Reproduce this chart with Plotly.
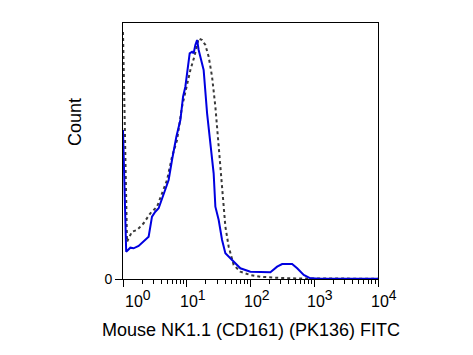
import plotly.graph_objects as go

# Fluorescence positions are given as log10 decades (0..4 -> 10^0..10^4)
stained_log = [0.0, 0.05, 0.115, 0.166, 0.245, 0.323, 0.402, 0.455, 0.507, 0.559, 0.637,
               0.716, 0.769, 0.837, 0.9, 0.942, 0.978, 1.014, 1.046, 1.083, 1.108, 1.135,
               1.162, 1.187, 1.214, 1.265, 1.319, 1.371, 1.422, 1.449, 1.501, 1.554, 1.606,
               1.711, 1.841, 1.998, 2.155, 2.312, 2.418, 2.496, 2.653, 2.732, 2.835, 2.94,
               3.097, 4.0]
stained_count = [149, 27.3, 31.3, 30.7, 33, 37.3, 42.3, 62.3, 67.3, 70.7, 85.7,
                 99, 119, 142.3, 159, 182.3, 192.3, 209, 225.7, 227.3, 225.7, 234,
                 239, 229, 222.3, 209, 165.7, 132.3, 105.7, 72.3, 59, 39, 25.7,
                 19, 10.7, 7.3, 6.7, 6.7, 12.3, 15, 15, 10.7, 4, 0.7,
                 0.3, 0.3]

control_log = [0.0, 0.063, 0.141, 0.22, 0.323, 0.429, 0.534, 0.612, 0.691, 0.769, 0.848,
               0.926, 0.994, 1.057, 1.119, 1.187, 1.24, 1.292, 1.344, 1.397, 1.449, 1.501,
               1.554, 1.606, 1.658, 1.736, 1.841, 1.998, 2.155, 2.47, 2.785, 4.0]
control_count = [247, 37.3, 47.3, 49, 55.7, 65.7, 72.3, 85.7, 99, 122.3, 139,
                 172.3, 192.3, 209, 222.3, 240.7, 239, 234, 222.3, 202.3, 172.3, 132.3,
                 92.3, 52.3, 32.3, 14, 7.3, 4, 2.3, 1, 0.5, 0.3]

x_tick_exponents = [0, 1, 2, 3, 4]
x_title = "Mouse NK1.1 (CD161) (PK136) FITC"
y_title = "Count"

stained_x = [10 ** v for v in stained_log]
control_x = [10 ** v for v in control_log]

fig = go.Figure()
fig.add_trace(go.Scatter(x=control_x, y=control_count, mode="lines",
                         line=dict(color="#3a3a3a", width=2, dash="dot"),
                         showlegend=False, hoverinfo="skip"))
fig.add_trace(go.Scatter(x=stained_x, y=stained_count, mode="lines",
                         line=dict(color="#0000e0", width=2),
                         showlegend=False, hoverinfo="skip"))

font_family = "Liberation Sans, Arial, sans-serif"

# page body has an 8px default margin, so the figure is offset by 8px
fig.update_layout(
    width=465, height=347,
    margin=dict(l=115, r=95, t=15, b=76),
    paper_bgcolor="white", plot_bgcolor="white",
    font=dict(family=font_family, color="black"),
    xaxis=dict(type="log", range=[0, 4], showgrid=False, zeroline=False,
               showline=True, linecolor="black", linewidth=1, mirror=True,
               ticks="outside", ticklen=7, tickcolor="black", tickwidth=1,
               dtick=1, showticklabels=False,
               minor=dict(ticks="outside", ticklen=4, tickcolor="black", dtick="D1", showgrid=False)),
    yaxis=dict(range=[0, 256], showgrid=False, zeroline=False,
               showline=True, linecolor="black", linewidth=1, mirror=True,
               ticks="outside", ticklen=7, tickcolor="black",
               tickvals=[0], ticktext=["0"], tickfont=dict(size=14)),
)

annotations = []
for e in x_tick_exponents:
    shift = -9 if e > 0 else 0
    annotations.append(dict(x=e, y=0, xref="x", yref="paper", xanchor="left", yanchor="top",
                            text=f"10<sup><span style='font-size:14px'>{e}</span></sup>",
                            showarrow=False,
                            font=dict(size=16, family=font_family), xshift=shift, yshift=-6))
annotations.append(dict(x=0.5, y=0, xref="paper", yref="paper", xanchor="center", yanchor="middle",
                        text=x_title, showarrow=False, font=dict(size=18, family=font_family),
                        yshift=-51))
annotations.append(dict(x=0, y=0.5, xref="paper", yref="paper", xanchor="center", yanchor="middle",
                        text=y_title, showarrow=False, textangle=-90,
                        font=dict(size=18, family=font_family), xshift=-48, yshift=29))
fig.update_layout(annotations=annotations)

fig.write_html("out.html")
